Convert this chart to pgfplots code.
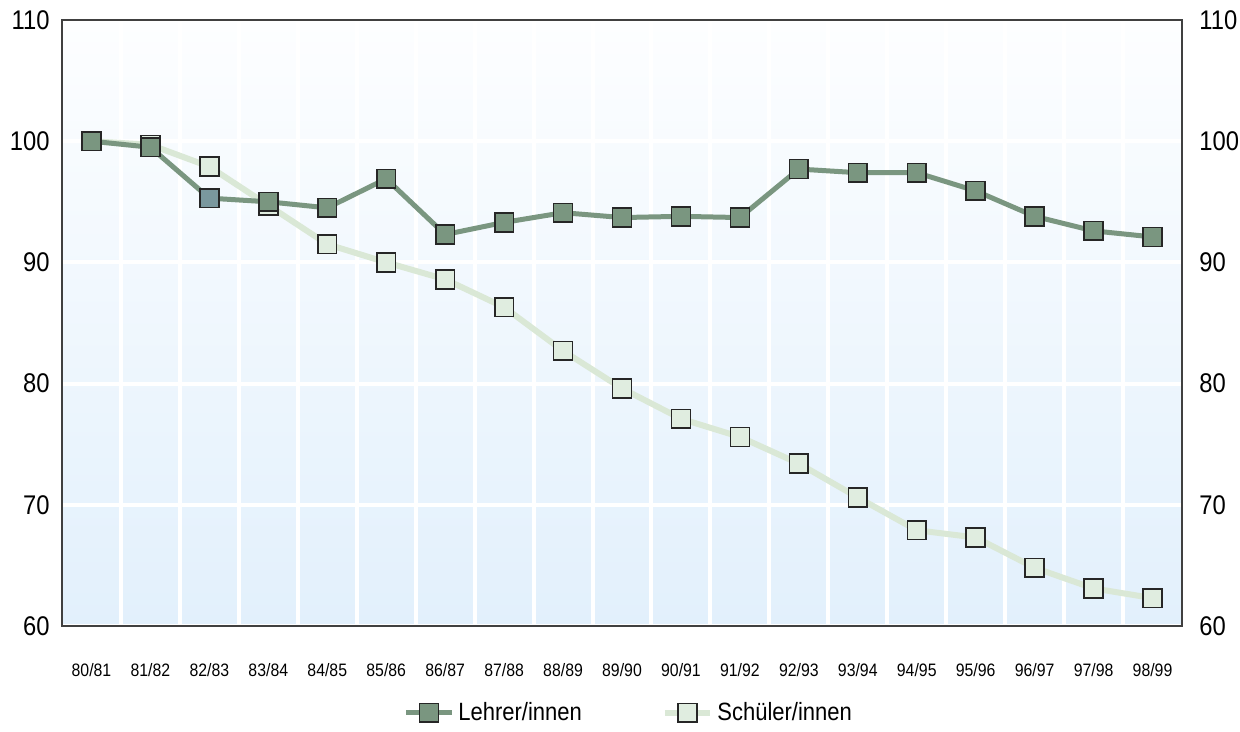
\documentclass[border=0pt]{standalone}
\usepackage{fontspec}
\setmainfont{Liberation Sans}[FakeStretch=0.88]
\usepackage{pgfplots}
\usepackage{pgfplotstable}
\pgfplotsset{compat=1.18}

\definecolor{lehrer}{RGB}{122,150,128}
\definecolor{lehrerblue}{RGB}{122,152,158}
\definecolor{schueler}{RGB}{224,237,224}
\definecolor{schuelerline}{RGB}{218,232,214}
\definecolor{bgtop}{RGB}{253,254,255}
\definecolor{bgbottom}{RGB}{226,240,252}

\pgfplotstableread{
x lehrer schueler
0  100.0 100.0
1  99.5  99.7
2  95.3  97.9
3  95.0  94.7
4  94.5  91.5
5  96.9  90.0
6  92.3  88.6
7  93.3  86.3
8  94.1  82.7
9  93.7  79.6
10 93.8  77.1
11 93.7  75.6
12 97.7  73.4
13 97.4  70.6
14 97.4  67.9
15 95.9  67.3
16 93.8  64.8
17 92.6  63.1
18 92.1  62.3
}\data

\begin{document}
\begin{tikzpicture}
\begin{axis}[
    name=main,
    width=560pt, height=303pt, scale only axis,
    xmin=-0.5, xmax=18.5, ymin=60, ymax=110,
    xtick={0,...,18},
    xticklabels={80/81,81/82,82/83,83/84,84/85,85/86,86/87,87/88,88/89,89/90,90/91,91/92,92/93,93/94,94/95,95/96,96/97,97/98,98/99},
    minor xtick={0.5,1.5,...,17.5},
    ytick={60,70,...,110},
    major tick length=0pt, minor tick length=0pt,
    xminorgrids=true, ymajorgrids=true,
    minor grid style={white, line width=2pt},
    major grid style={white, line width=2pt},
    axis line style={black!75, line width=0.8pt},
    axis background/.style={top color=bgtop, bottom color=bgbottom},
    /pgf/number format/assume math mode=true,
    xticklabel style={font=\fontsize{9}{11}\selectfont, yshift=-15pt},
    yticklabel style={font=\fontsize{13.5}{15}\selectfont, inner sep=0pt, xshift=-6pt},
    legend style={at={(0.507,-0.112)}, anchor=north, draw=none, fill=none,
        legend columns=2, font=\fontsize{12.5}{14}\selectfont,
        /tikz/every even column/.append style={column sep=38pt}},
    legend image code/.code={\draw[mark repeat=2, mark phase=2]
        plot coordinates {(0cm,0cm) (0.4cm,0cm) (0.8cm,0cm)};},
    reverse legend,
]
\addplot[schuelerline, line width=3pt, mark=square*,
    mark size=4.7pt, mark options={fill=schueler, draw=black!85, line width=0.8pt}]
    table[x=x, y=schueler] {\data};
\addlegendentry{Schüler/innen}
\addplot[lehrer, line width=2.5pt, mark=square*,
    mark size=4.7pt, mark options={fill=lehrer, draw=black!85, line width=0.8pt}]
    table[x=x, y=lehrer] {\data};
\addlegendentry{Lehrer/innen}
\addplot[forget plot, only marks, mark=square*, mark size=4.7pt,
    mark options={fill=lehrerblue, draw=black!85, line width=0.8pt}]
    coordinates {(2,95.3)};
\coordinate (sw) at (rel axis cs:0,0);
\coordinate (ne) at (rel axis cs:1,1);
\end{axis}
\begin{axis}[
    width=560pt, height=303pt, scale only axis,
    xmin=-0.5, xmax=18.5, ymin=60, ymax=110,
    axis x line=none, axis y line*=right,
    y axis line style={draw=none},
    ytick={60,70,...,110},
    major tick length=0pt,
    /pgf/number format/assume math mode=true,
    yticklabel style={font=\fontsize{13.5}{15}\selectfont, inner sep=0pt, xshift=8.5pt},
]
\end{axis}
\path ([xshift=-31pt,yshift=-50.5pt]sw) rectangle ([xshift=29pt,yshift=10pt]ne);
\end{tikzpicture}
\end{document}
